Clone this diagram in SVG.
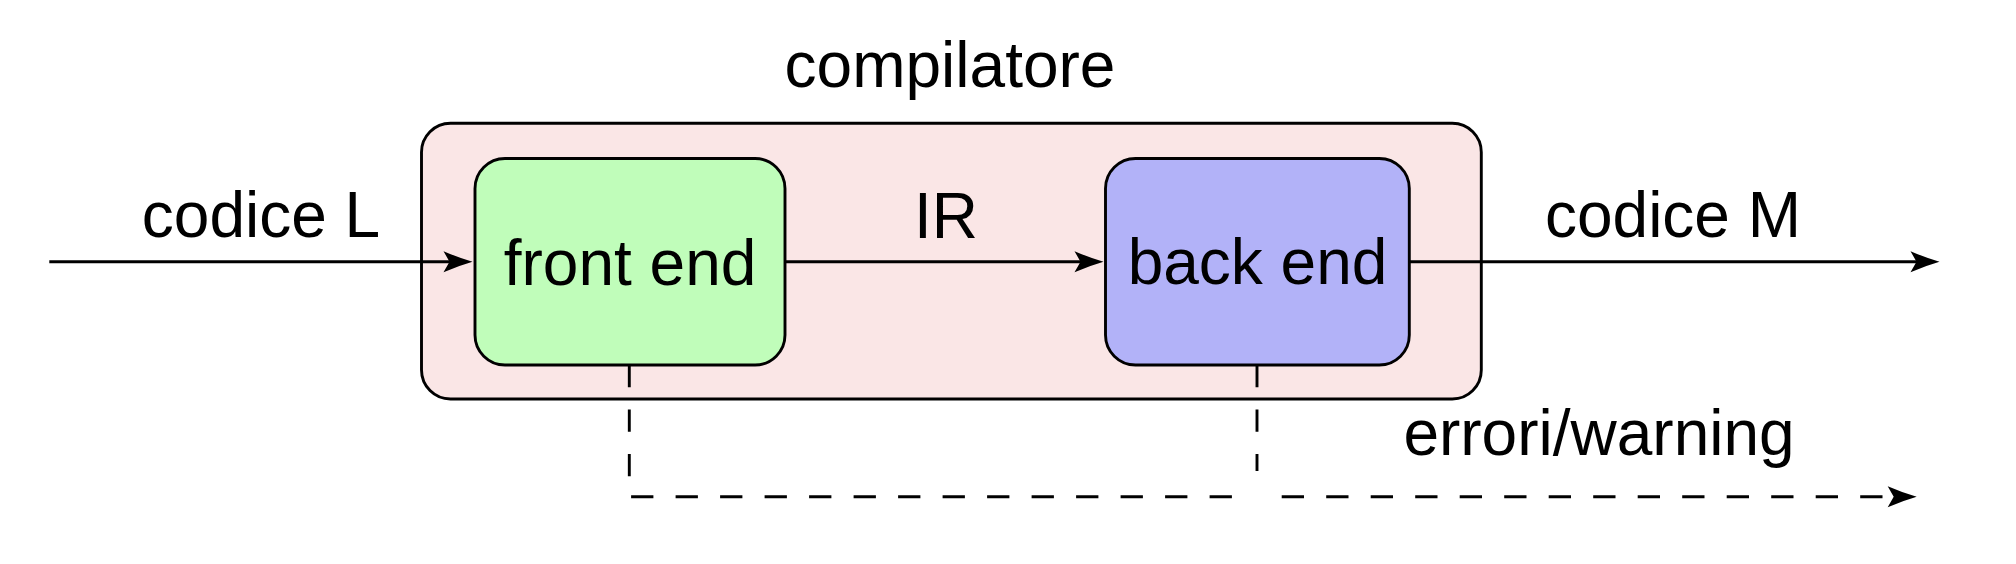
<svg xmlns="http://www.w3.org/2000/svg" width="2016" height="564" viewBox="0 0 2016 564">
  <style>
    .lbl { font-family: "Liberation Sans", Arial, sans-serif; font-size: 64px; fill: #000; text-anchor: middle; }
    .box { stroke: #000; stroke-width: 2.9; }
    .conn { fill: none; stroke: #000; stroke-width: 2.9; }
    .dash { stroke-dasharray: 22.3 22.2; }
  </style>
  <defs>
    <marker id="stealth" markerUnits="userSpaceOnUse" orient="auto" refX="-22" refY="0" overflow="visible" markerWidth="1" markerHeight="1">
      <path d="M0,0 Q-14,-4 -29,-10.5 L-23,0 L-29,10.5 Q-14,4 0,0 Z" fill="#000"/>
    </marker>
  </defs>
  <rect width="2016" height="564" fill="#fff"/>

  <g id="compilatore">
    <rect class="box" x="421.5" y="123.3" width="1059.8" height="275.7" rx="29" ry="29" fill="#FAE6E6"/>
    <text class="lbl" x="950" y="86.7">compilatore</text>
  </g>

  <g id="front-end">
    <rect class="box" x="475" y="158.5" width="310" height="206.5" rx="30" ry="30" fill="#C0FDBA"/>
    <text class="lbl" x="630" y="285">front end</text>
  </g>

  <g id="back-end">
    <rect class="box" x="1105.5" y="158.5" width="303.8" height="206.5" rx="30" ry="30" fill="#B2B2F8"/>
    <text class="lbl" x="1257.5" y="284">back end</text>
  </g>

  <g id="connectors">
    <path class="conn" d="M49.3,261.7 H450.5" marker-end="url(#stealth)"/>
    <path class="conn" d="M785,261.7 H1081.5" marker-end="url(#stealth)"/>
    <path class="conn" d="M1409.3,261.7 H1917.5" marker-end="url(#stealth)"/>
    <path class="conn dash" d="M629.3,365 V496.7 H1252"/>
    <path class="conn dash" d="M1257,365 V471"/>
    <path class="conn dash" d="M1259.5,496.7 H1894.7" stroke-dashoffset="22.3" marker-end="url(#stealth)"/>
  </g>

  <g id="labels">
    <text class="lbl" x="261" y="236.7">codice L</text>
    <text class="lbl" x="946" y="237.7">IR</text>
    <text class="lbl" x="1673" y="237.3">codice M</text>
    <text class="lbl" x="1599" y="455">errori/warning</text>
  </g>
</svg>
